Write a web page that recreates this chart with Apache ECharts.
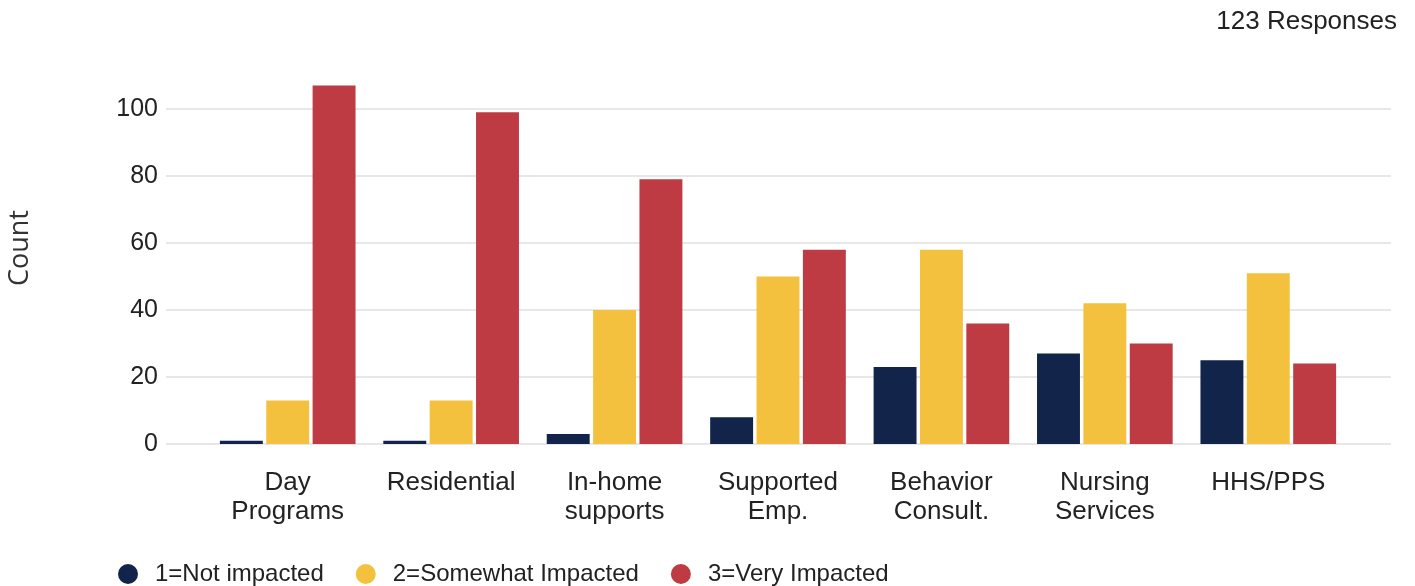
<!DOCTYPE html>
<html>
<head>
<meta charset="utf-8">
<script src="https://cdn.jsdelivr.net/npm/echarts@6/dist/echarts.min.js"></script>
<style>
  html, body { margin: 0; padding: 0; background: #fff; }
  #chart { width: 1415px; height: 586px; }
</style>
</head>
<body>
<div id="chart"></div>
<script>
// Service categories (x axis)
const categories = [
  'Day\nPrograms', 'Residential', 'In-home\nsupports', 'Supported\nEmp.',
  'Behavior\nConsult.', 'Nursing\nServices', 'HHS/PPS'
];
// Response counts per impact level
const notImpacted      = [1, 1, 3, 8, 23, 27, 25];
const somewhatImpacted = [13, 13, 40, 50, 58, 42, 51];
const veryImpacted     = [107, 99, 79, 58, 36, 30, 24];
const seriesNames = ['1=Not impacted', '2=Somewhat Impacted', '3=Very Impacted'];
const colors = ['#13244a', '#f4c13f', '#be3b43'];
const yTicks = { min: 0, max: 100, interval: 20 };
const responsesLabel = '123 Responses';
const yAxisTitle = 'Count';

const font = 'Liberation Sans, Arial, sans-serif';
const chart = echarts.init(document.getElementById('chart'), null, { renderer: 'canvas' });

const seriesData = [notImpacted, somewhatImpacted, veryImpacted];

chart.setOption({
  backgroundColor: '#ffffff',
  animation: false,
  color: colors,
  title: {
    text: responsesLabel,
    right: 13,
    top: 4,
    textStyle: { fontFamily: font, fontSize: 26, fontWeight: 'normal', color: '#222' }
  },
  graphic: [{
    type: 'text',
    x: 20,
    y: 248,
    rotation: Math.PI / 2,
    style: {
      text: yAxisTitle,
      font: '27px "Open Sans", sans-serif',
      fill: '#333',
      align: 'center',
      verticalAlign: 'middle'
    }
  }],
  legend: {
    left: 113,
    top: 557,
    itemWidth: 20,
    itemHeight: 20,
    itemGap: 32,
    icon: 'circle',
    data: seriesNames,
    textStyle: { fontFamily: font, fontSize: 24, color: '#222', padding: [0, 0, 0, 12] }
  },
  grid: [
    // wide grid: gridlines and value labels
    { left: 166, right: 24, top: 109, bottom: 142 },
    // inner grid: category bands
    { left: 206, right: 65, top: 109, bottom: 142 }
  ],
  xAxis: [
    { type: 'category', gridIndex: 0, data: [], show: false },
    {
      type: 'category',
      gridIndex: 1,
      data: categories,
      axisLine: { show: false },
      axisTick: { show: false },
      axisLabel: {
        fontFamily: font, fontSize: 26, color: '#222',
        lineHeight: 29, margin: 24, interval: 0
      }
    }
  ],
  yAxis: [
    {
      type: 'value', gridIndex: 0,
      min: yTicks.min, max: yTicks.max, interval: yTicks.interval,
      axisLine: { show: false },
      axisTick: { show: false },
      axisLabel: { fontFamily: font, fontSize: 25, color: '#222', margin: 8 },
      splitLine: { lineStyle: { color: '#e7e7e7', width: 2 } }
    },
    {
      type: 'value', gridIndex: 1,
      min: yTicks.min, max: yTicks.max, interval: yTicks.interval,
      show: false,
      splitLine: { show: false }
    }
  ],
  series: seriesNames.map((name, i) => ({
    name,
    type: 'bar',
    xAxisIndex: 1,
    yAxisIndex: 1,
    data: seriesData[i],
    clip: false,
    barGap: '8%',
    barCategoryGap: '17%',
    itemStyle: { color: colors[i] }
  }))
});
</script>
</body>
</html>
